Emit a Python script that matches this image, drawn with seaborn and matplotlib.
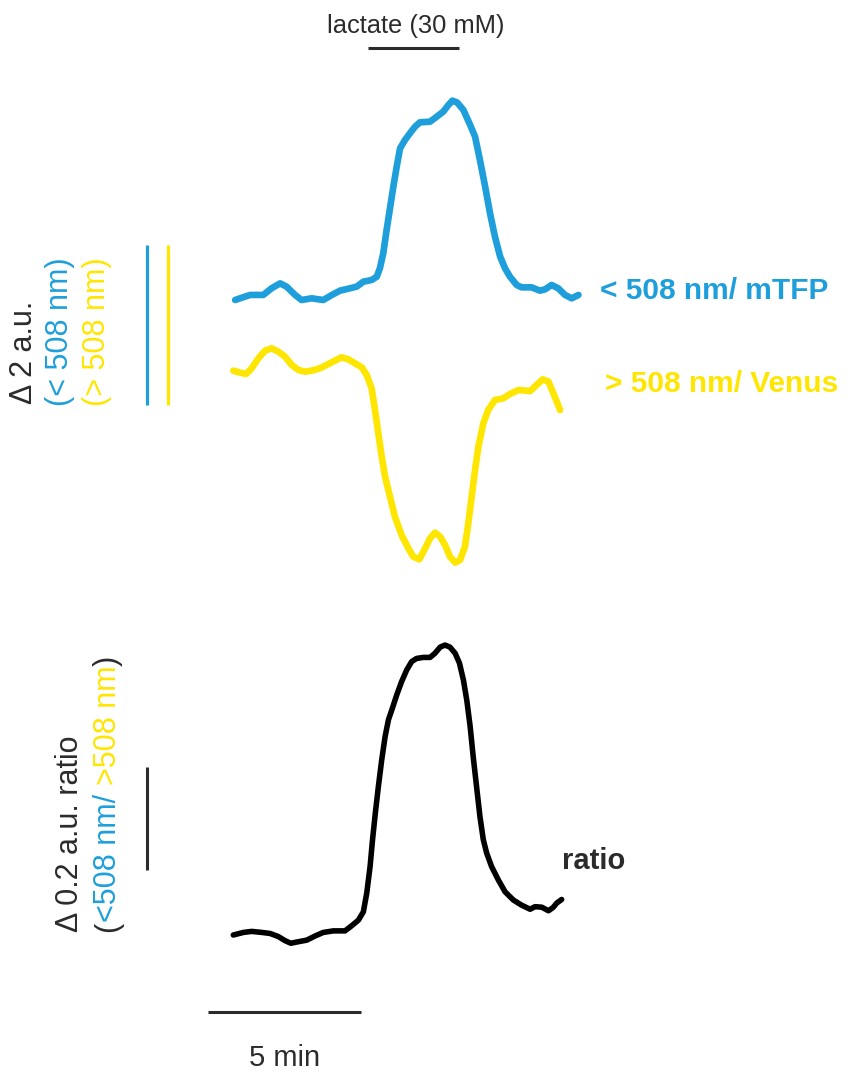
import matplotlib
matplotlib.use("Agg")
import matplotlib.pyplot as plt
import seaborn as sns
import numpy as np

sns.set_theme(style="white")
plt.rcParams["font.family"] = ["Liberation Sans", "DejaVu Sans"]

BLUE = "#1E9FDB"
YELLOW = "#FFE600"
INK = "#2B2B2B"

# ---- recorded traces (time in min from start of recording) ----
# < 508 nm channel (mTFP), change in a.u.
t_cfp = [0.07, 0.23, 0.56, 0.99, 1.26, 1.54, 1.75, 2.03, 2.24, 2.57, 2.95, 3.23,
         3.50, 3.82, 4.04, 4.26, 4.53, 4.70, 4.80, 4.91, 5.02, 5.13, 5.24, 5.35,
         5.46, 5.62, 5.78, 5.95, 6.11, 6.44, 6.66, 6.87, 7.04, 7.17, 7.33, 7.53,
         7.75, 7.91, 8.07, 8.24, 8.40, 8.56, 8.73, 8.89, 9.05, 9.27, 9.43, 9.76,
         10.03, 10.20, 10.41, 10.63, 10.85, 11.07, 11.29]
cfp = [-0.025, -0.004, 0.038, 0.038, 0.121, 0.183, 0.142, 0.038, -0.025, -0.004, -0.025, 0.038,
       0.092, 0.121, 0.142, 0.204, 0.225, 0.267, 0.371, 0.558, 0.850, 1.121, 1.392, 1.642,
       1.871, 1.975, 2.058, 2.142, 2.196, 2.204, 2.267, 2.329, 2.413, 2.467, 2.442, 2.350,
       2.163, 2.017, 1.725, 1.392, 1.058, 0.767, 0.517, 0.371, 0.267, 0.163, 0.133, 0.133,
       0.092, 0.108, 0.163, 0.121, 0.038, -0.004, 0.038]

# > 508 nm channel (Venus), change in a.u.
t_yfp = [0.01, 0.23, 0.43, 0.61, 0.83, 1.05, 1.26, 1.48, 1.70, 1.92, 2.14, 2.35,
         2.57, 2.84, 3.06, 3.33, 3.55, 3.77, 3.99, 4.21, 4.37, 4.53, 4.64, 4.75,
         4.86, 4.97, 5.13, 5.29, 5.51, 5.73, 5.89, 6.09, 6.28, 6.44, 6.60, 6.77,
         6.93, 7.09, 7.26, 7.42, 7.58, 7.69, 7.80, 7.91, 8.02, 8.18, 8.34, 8.56,
         8.83, 9.05, 9.33, 9.71, 9.92, 10.12, 10.31, 10.47, 10.69]
yfp = [-0.008, -0.033, -0.050, 0.021, 0.146, 0.242, 0.271, 0.229, 0.167, 0.063, 0.000, -0.021,
       -0.008, 0.021, 0.063, 0.117, 0.158, 0.133, 0.083, 0.033, -0.063, -0.229, -0.500, -0.792,
       -1.083, -1.333, -1.583, -1.833, -2.063, -2.229, -2.333, -2.367, -2.229, -2.104, -2.033, -2.083,
       -2.188, -2.333, -2.408, -2.375, -2.208, -1.917, -1.583, -1.250, -0.958, -0.667, -0.500, -0.375,
       -0.354, -0.300, -0.250, -0.263, -0.188, -0.117, -0.146, -0.292, -0.500]

# ratio (<508 nm / >508 nm), change in a.u.
t_ratio = [0.01, 0.34, 0.61, 0.94, 1.21, 1.48, 1.70, 1.89, 2.14, 2.41, 2.68, 2.95,
           3.28, 3.66, 3.88, 4.10, 4.26, 4.37, 4.48, 4.56, 4.65, 4.75, 4.86, 4.97,
           5.08, 5.19, 5.35, 5.51, 5.68, 5.84, 6.00, 6.22, 6.44, 6.60, 6.77, 6.93,
           7.09, 7.26, 7.40, 7.53, 7.64, 7.75, 7.85, 7.96, 8.07, 8.18, 8.29, 8.45,
           8.67, 8.89, 9.16, 9.43, 9.71, 9.87, 10.09, 10.31, 10.47, 10.58, 10.74]
ratio = [0.000, 0.005, 0.007, 0.005, 0.003, -0.003, -0.011, -0.016, -0.013, -0.010, -0.002, 0.005,
         0.008, 0.008, 0.018, 0.029, 0.045, 0.081, 0.133, 0.185, 0.236, 0.288, 0.340, 0.385,
         0.418, 0.437, 0.466, 0.492, 0.515, 0.531, 0.537, 0.539, 0.539, 0.547, 0.559, 0.563,
         0.559, 0.547, 0.528, 0.495, 0.456, 0.405, 0.346, 0.288, 0.230, 0.185, 0.159, 0.133,
         0.107, 0.084, 0.068, 0.058, 0.050, 0.055, 0.054, 0.047, 0.054, 0.062, 0.069]

# lactate application window (min) and scale bars
lactate_on, lactate_off = 4.4, 7.4
au_bar = 2.0
ratio_bar = 0.2
time_bar = 5.0

# ---- figure geometry (pixels) ----
W, H = 847, 1072
PX_PER_MIN = 30.6
X0 = 233                 # pixel column of t = 0
PX_PER_AU = 80.0         # fluorescence channels
PX_PER_RATIO = 515.0     # ratio trace
CFP_BASE_Y = 298         # pixel row of cfp = 0
YFP_OFFSET = -0.9        # Venus trace drawn below the mTFP trace
RATIO_BASE_Y = 935
SPLIT = 620              # row dividing the two panels

fig = plt.figure(figsize=(W / 100, H / 100), dpi=100)
fig.patch.set_facecolor("white")

xlim = ((0 - X0) / PX_PER_MIN, (W - X0) / PX_PER_MIN)

ax_top = fig.add_axes([0, 1 - SPLIT / H, 1, SPLIT / H])
ax_top.set_xlim(*xlim)
ax_top.set_ylim((CFP_BASE_Y - SPLIT) / PX_PER_AU, CFP_BASE_Y / PX_PER_AU)
ax_top.axis("off")

ax_bot = fig.add_axes([0, 0, 1, 1 - SPLIT / H])
ax_bot.set_xlim(*xlim)
ax_bot.set_ylim((RATIO_BASE_Y - H) / PX_PER_RATIO, (RATIO_BASE_Y - SPLIT) / PX_PER_RATIO)
ax_bot.axis("off")

line_kw = dict(estimator=None, sort=False, solid_capstyle="round", solid_joinstyle="round")
sns.lineplot(x=t_cfp, y=cfp, ax=ax_top, color=BLUE, linewidth=4.8, **line_kw)
sns.lineplot(x=t_yfp, y=np.array(yfp) + YFP_OFFSET, ax=ax_top, color=YELLOW,
             linewidth=4.8, **line_kw)
sns.lineplot(x=t_ratio, y=ratio, ax=ax_bot, color="black", linewidth=4.0, **line_kw)

# lactate bar
lac_y = (CFP_BASE_Y - 48) / PX_PER_AU
ax_top.plot([lactate_on, lactate_off], [lac_y, lac_y], color=INK, lw=2.2, solid_capstyle="butt")

# fluorescence scale bars (2 a.u.)
bar_x_blue = (147 - X0) / PX_PER_MIN
bar_x_yellow = (168 - X0) / PX_PER_MIN
bar_y0 = (CFP_BASE_Y - 405) / PX_PER_AU
ax_top.plot([bar_x_blue] * 2, [bar_y0, bar_y0 + au_bar], color=BLUE, lw=2.3, solid_capstyle="butt")
ax_top.plot([bar_x_yellow] * 2, [bar_y0, bar_y0 + au_bar], color=YELLOW, lw=2.3, solid_capstyle="butt")

# ratio scale bar (0.2 a.u.)
rbar_y0 = (RATIO_BASE_Y - 870) / PX_PER_RATIO
ax_bot.plot([bar_x_blue] * 2, [rbar_y0, rbar_y0 + ratio_bar], color=INK, lw=2.2, solid_capstyle="butt")

# time scale bar (5 min)
tbar_x0 = (208 - X0) / PX_PER_MIN
tbar_y = (RATIO_BASE_Y - 1012) / PX_PER_RATIO
ax_bot.plot([tbar_x0, tbar_x0 + time_bar], [tbar_y, tbar_y], color=INK, lw=2.2, solid_capstyle="butt")


def fig_xy(x_px, y_px):
    return x_px / W, 1 - y_px / H


# horizontal labels
fig.text(*fig_xy(416, 33), "lactate (30 mM)", fontsize=18.4, color=INK, ha="center", va="baseline")
fig.text(*fig_xy(285, 1066), "5 min", fontsize=21, color=INK, ha="center", va="baseline")
fig.text(*fig_xy(600, 299), "< 508 nm/ mTFP", fontsize=21.5, fontweight="bold",
         color=BLUE, ha="left", va="baseline")
fig.text(*fig_xy(605, 392), "> 508 nm/ Venus", fontsize=21.5, fontweight="bold",
         color=YELLOW, ha="left", va="baseline")
fig.text(*fig_xy(562, 869), "ratio", fontsize=21, fontweight="bold",
         color=INK, ha="left", va="baseline")


def vertical_label(x_px, y_px, pieces, size=22):
    """Rotated text built from differently coloured pieces, read bottom to top."""
    renderer = fig.canvas.get_renderer()
    y = y_px
    for s, c in pieces:
        txt = fig.text(*fig_xy(x_px, y), s, color=c, fontsize=size, rotation=90,
                       ha="center", va="bottom")
        y -= txt.get_window_extent(renderer).height


vertical_label(24, 404, [("\u0394 2 a.u.", INK)])
vertical_label(60, 406, [("(< 508 nm)", BLUE)])
vertical_label(97, 406, [("(> 508 nm)", YELLOW)])

vertical_label(70, 932, [("\u0394 0.2 a.u. ratio", INK)])
vertical_label(108, 932, [("(", INK), ("<508 nm/ ", BLUE), (">508 nm", YELLOW), (")", INK)])

fig.savefig("out.png", dpi=100, facecolor="white")
